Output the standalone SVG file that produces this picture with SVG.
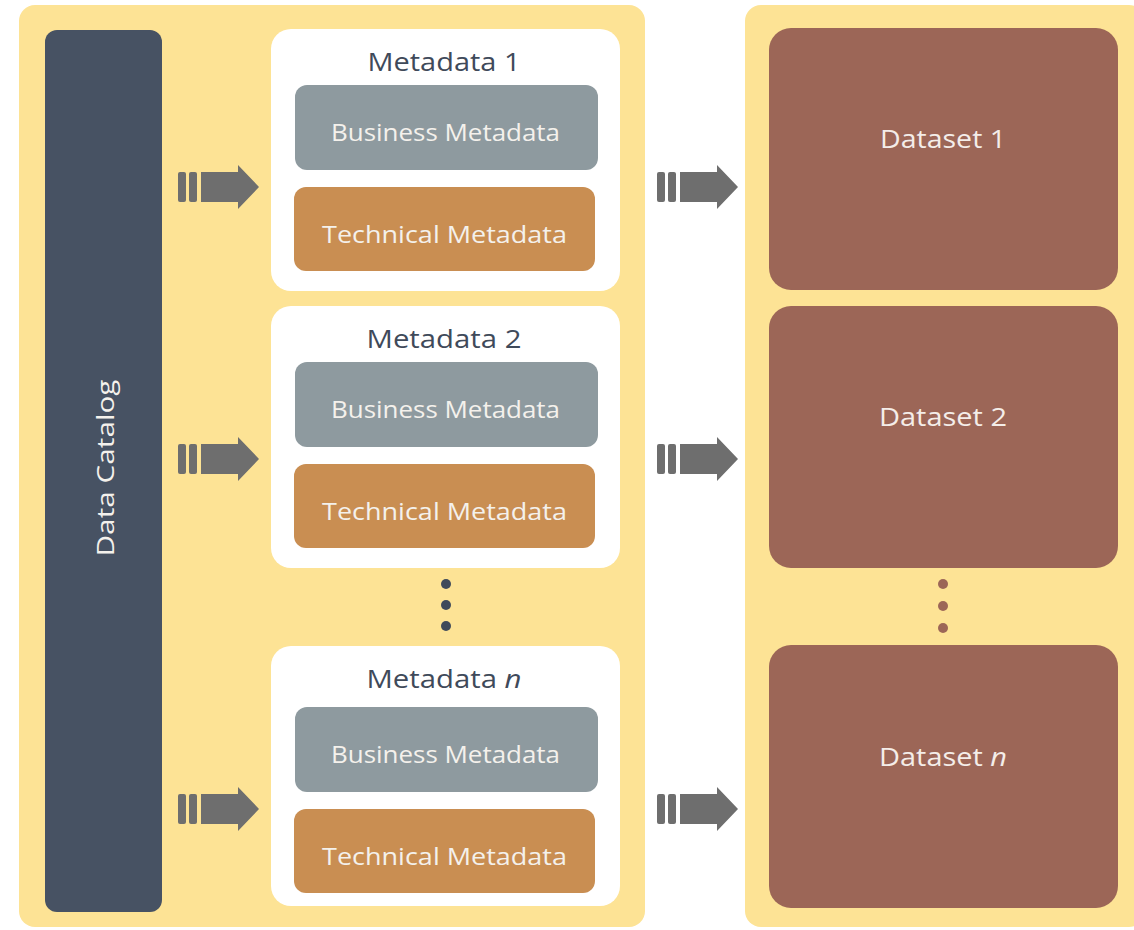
<svg xmlns="http://www.w3.org/2000/svg" width="1134" height="930" viewBox="0 0 1134 930">
<defs>
<style>
.panel{fill:#FDE395}
.white{fill:#FFFFFF}
.biz{fill:#8E9A9F}
.tech{fill:#C98E52}
.ds{fill:#9C6657}
.t{font-family:"Open Sans","Noto Sans",sans-serif;text-anchor:middle;dominant-baseline:central}
.tw{fill:#F4F1EC;font-size:24px}
.title{fill:#3F4A5A;font-size:26px}
.dst{fill:#F4EDE9;font-size:26px}
.arr{fill:#6E6E6E}
</style>
<g id="arrow">
<rect x="0" y="-15" width="8" height="30" rx="2"/>
<rect x="11" y="-15" width="8" height="30" rx="2"/>
<path d="M23 -15 H60 V-22 L81 0 L60 22 V15 H23 Z"/>
</g>
</defs>
<rect class="panel" x="19" y="5" width="626" height="922" rx="16"/>
<rect class="panel" x="745" y="5" width="400" height="922" rx="16"/>
<g id="catalog">
<rect x="45" y="30" width="117" height="882" rx="12" fill="#475263"/>
<text class="t tw" transform="translate(104,468) rotate(-90)" textLength="177" lengthAdjust="spacingAndGlyphs">Data Catalog</text>
</g>
<g id="meta1">
<rect class="white" x="271" y="29" width="349" height="262" rx="20"/>
<text class="t title" x="444" y="61" textLength="153" lengthAdjust="spacingAndGlyphs">Metadata 1</text>
<rect class="biz" x="295" y="85" width="303" height="85" rx="12"/>
<text class="t tw" x="445.5" y="131" textLength="229" lengthAdjust="spacingAndGlyphs">Business Metadata</text>
<rect class="tech" x="294" y="187" width="301" height="84" rx="12"/>
<text class="t tw" x="444.5" y="233" textLength="245" lengthAdjust="spacingAndGlyphs">Technical Metadata</text>
</g>
<g id="meta2">
<rect class="white" x="271" y="306" width="349" height="262" rx="20"/>
<text class="t title" x="444" y="338" textLength="155" lengthAdjust="spacingAndGlyphs">Metadata 2</text>
<rect class="biz" x="295" y="362" width="303" height="85" rx="12"/>
<text class="t tw" x="445.5" y="408" textLength="229" lengthAdjust="spacingAndGlyphs">Business Metadata</text>
<rect class="tech" x="294" y="464" width="301" height="84" rx="12"/>
<text class="t tw" x="444.5" y="510" textLength="245" lengthAdjust="spacingAndGlyphs">Technical Metadata</text>
</g>
<g id="meta-dots" fill="#3F4A5A">
<circle cx="446" cy="584" r="5"/>
<circle cx="446" cy="605" r="5"/>
<circle cx="446" cy="626" r="5"/>
</g>
<g id="metan">
<rect class="white" x="271" y="646" width="349" height="260" rx="20"/>
<text class="t title" x="444" y="678" textLength="155" lengthAdjust="spacingAndGlyphs">Metadata <tspan font-style="italic">n</tspan></text>
<rect class="biz" x="295" y="707" width="303" height="85" rx="12"/>
<text class="t tw" x="445.5" y="753" textLength="229" lengthAdjust="spacingAndGlyphs">Business Metadata</text>
<rect class="tech" x="294" y="809" width="301" height="84" rx="12"/>
<text class="t tw" x="444.5" y="855" textLength="245" lengthAdjust="spacingAndGlyphs">Technical Metadata</text>
</g>
<g id="ds1">
<rect class="ds" x="769" y="28" width="349" height="262" rx="22"/>
<text class="t dst" x="943" y="138" textLength="126" lengthAdjust="spacingAndGlyphs">Dataset 1</text>
</g>
<g id="ds2">
<rect class="ds" x="769" y="306" width="349" height="262" rx="22"/>
<text class="t dst" x="943" y="416" textLength="128" lengthAdjust="spacingAndGlyphs">Dataset 2</text>
</g>
<g id="ds-dots" fill="#9C6657">
<circle cx="943" cy="584" r="5"/>
<circle cx="943" cy="606" r="5"/>
<circle cx="943" cy="628" r="5"/>
</g>
<g id="dsn">
<rect class="ds" x="769" y="645" width="349" height="263" rx="22"/>
<text class="t dst" x="943" y="756" textLength="128" lengthAdjust="spacingAndGlyphs">Dataset <tspan font-style="italic">n</tspan></text>
</g>
<g id="connectors" class="arr">
<use href="#arrow" x="178" y="187"/>
<use href="#arrow" x="178" y="459"/>
<use href="#arrow" x="178" y="809"/>
<use href="#arrow" x="657" y="187"/>
<use href="#arrow" x="657" y="459"/>
<use href="#arrow" x="657" y="809"/>
</g>
</svg>
